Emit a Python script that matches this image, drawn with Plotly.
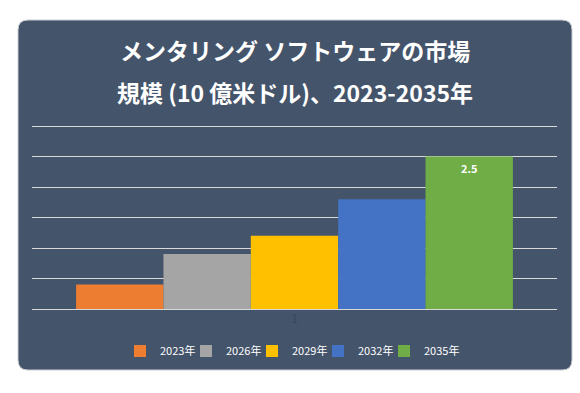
import plotly.graph_objects as go

categories = ["1"]
years = ["2023年", "2026年", "2029年", "2032年", "2035年"]
values = [0.4, 0.9, 1.2, 1.8, 2.5]
colors = ["#ED7D31", "#A5A5A5", "#FFC000", "#4472C4", "#70AD47"]
labelled = [False, False, False, False, True]
title_line1 = "メンタリング ソフトウェアの市場"
title_line2 = "規模 (10 億米ドル)、2023-2035年"

W, H = 580, 393
FONT = "Noto Sans CJK JP"

def px(x):
    return x / W

def py(y):
    return 1 - y / H

legend_ids = ["legend"] + [f"legend{i}" for i in range(2, len(years) + 1)]

fig = go.Figure()
for yr, v, c, lab, lg in zip(years, values, colors, labelled, legend_ids):
    fig.add_trace(go.Bar(
        x=categories, y=[v], name=yr, marker=dict(color=c, line=dict(width=0)),
        text=[f"{v}"] if lab else None,
        textposition="inside", insidetextanchor="end",
        textfont=dict(color="white", size=11, family=FONT),
        texttemplate="<b>%{text}</b>" if lab else None,
        legend=lg,
    ))

# rounded panel behind the chart (pixel geometry converted to paper units)
x0, y0, x1, y1, r = 18, 20, 572, 370, 10
path = (
    f"M {px(x0 + r)} {py(y0)} L {px(x1 - r)} {py(y0)} "
    f"Q {px(x1)} {py(y0)} {px(x1)} {py(y0 + r)} "
    f"L {px(x1)} {py(y1 - r)} Q {px(x1)} {py(y1)} {px(x1 - r)} {py(y1)} "
    f"L {px(x0 + r)} {py(y1)} Q {px(x0)} {py(y1)} {px(x0)} {py(y1 - r)} "
    f"L {px(x0)} {py(y0 + r)} Q {px(x0)} {py(y0)} {px(x0 + r)} {py(y0)} Z"
)
fig.add_shape(type="path", path=path, xref="paper", yref="paper",
              fillcolor="#44546A", line=dict(color="#C8CCD2", width=1), layer="below")

fig.add_annotation(text=f"<b>{title_line1}</b>", x=px(295), y=py(50), xref="paper", yref="paper",
                   showarrow=False, font=dict(color="white", size=23, family=FONT),
                   xanchor="center", yanchor="middle")
fig.add_annotation(text=f"<b>{title_line2}</b>", x=px(295), y=py(92), xref="paper", yref="paper",
                   showarrow=False, font=dict(color="white", size=23, family=FONT),
                   xanchor="center", yanchor="middle")

# legends: one per series, laid out in a centred row
pitch = 66
first_text = 160
legend_layout = {}
for i, lg in enumerate(legend_ids):
    legend_layout[lg] = dict(
        orientation="h", x=px(first_text + i * pitch - 40), xanchor="left",
        y=py(351), yanchor="middle",
        font=dict(color="white", size=11, family=FONT),
        bgcolor="rgba(0,0,0,0)", borderwidth=0, itemwidth=30,
    )

# y: 0 -> 309px, 3 -> 126px; pad range slightly so edge gridlines are drawn
pad = 0.02
unit = (309 - 126) / 3.0
fig.update_layout(
    width=W, height=H,
    margin=dict(l=0, r=0, t=0, b=0),
    paper_bgcolor="white",
    plot_bgcolor="rgba(0,0,0,0)",
    barmode="group", bargap=0.168, bargroupgap=0,
    showlegend=True,
    xaxis=dict(domain=[px(32), px(557)], showgrid=False, zeroline=False, showline=False,
               ticks="", tickfont=dict(color="#3A495D", size=12, family=FONT)),
    yaxis=dict(domain=[py(309 + pad * unit), py(126 - pad * unit)], range=[-pad, 3 + pad],
               tickvals=[0, 0.5, 1, 1.5, 2, 2.5, 3], showticklabels=False,
               gridcolor="#D9D9D9", gridwidth=1, zeroline=False, showline=False),
    font=dict(family=FONT),
    **legend_layout,
)

fig.write_html(
    "out.html",
    config={"displayModeBar": False},
    post_script="document.body.style.margin='0';document.body.style.padding='0';document.body.style.overflow='hidden';",
)
